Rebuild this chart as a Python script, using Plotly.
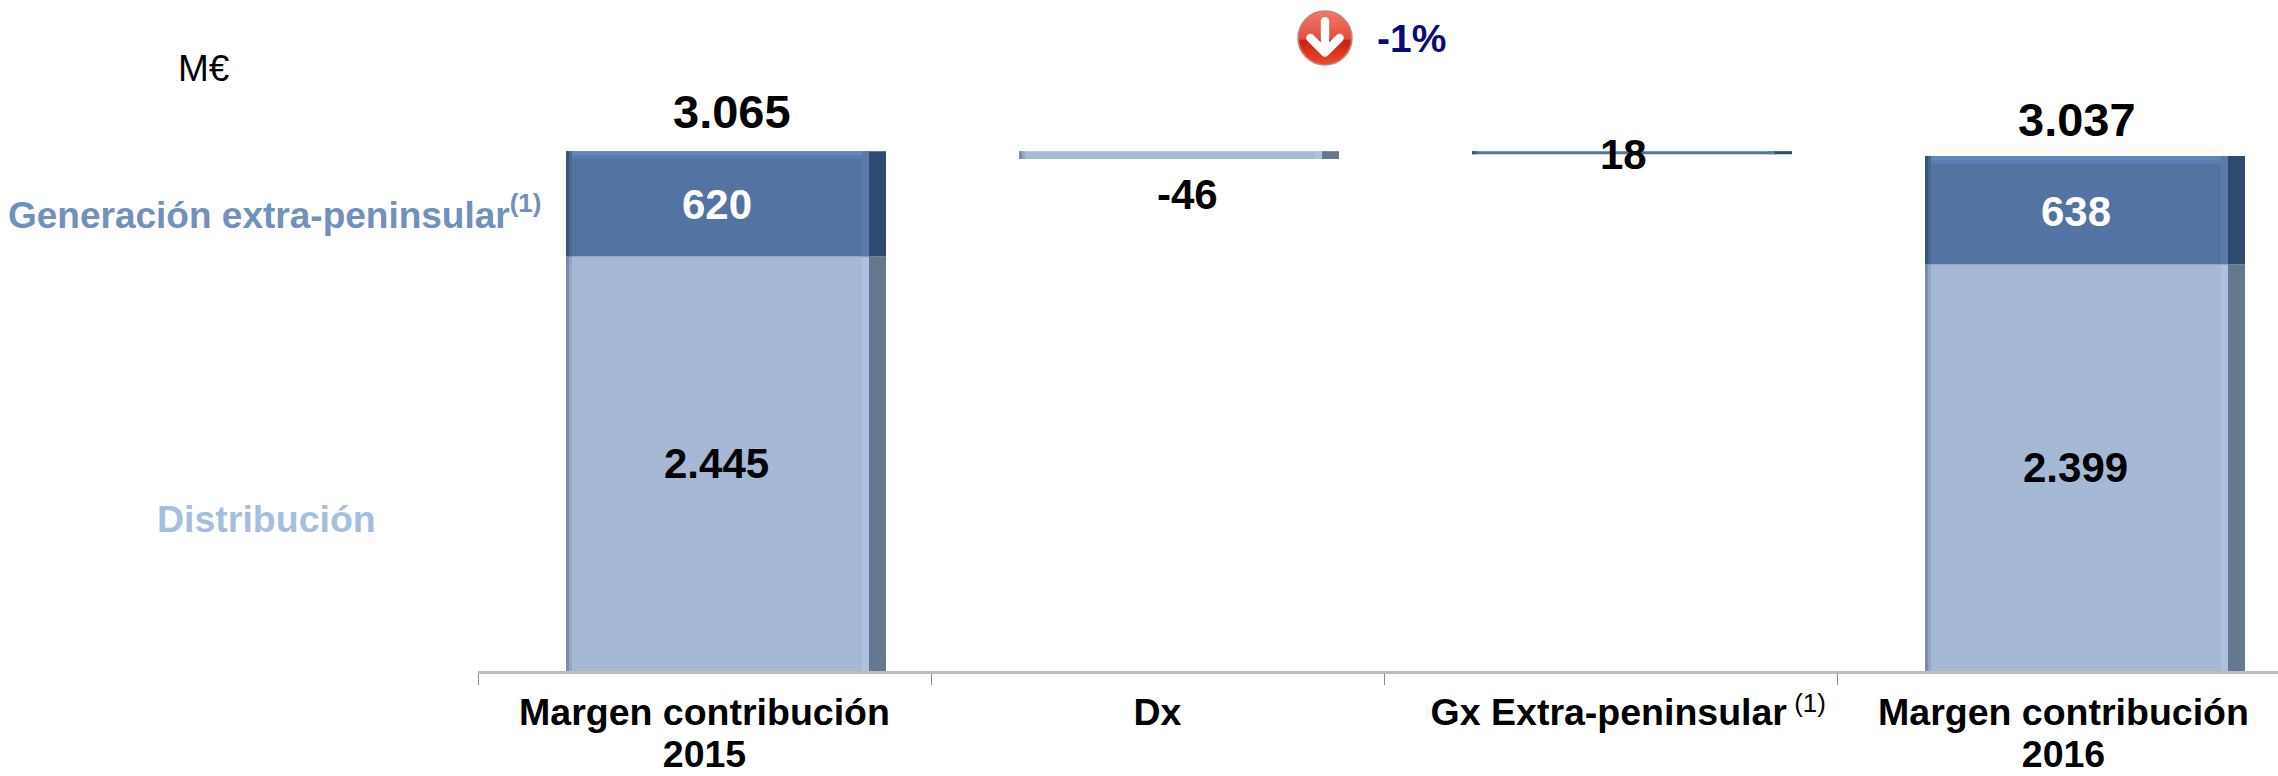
import base64
import plotly.graph_objects as go

# ---- data ----
categories = ["Margen contribución 2015", "Dx", "Gx Extra-peninsular", "Margen contribución 2016"]
tick_lines = [["Margen contribución", "2015"], ["Dx"], ["Gx Extra-peninsular"], ["Margen contribución", "2016"]]
distribucion = [2445, 2399]
generacion = [620, 638]
totals = [3065, 3037]
dx_change = -46
gx_change = 18
distribucion_labels = ["2.445", "2.399"]
generacion_labels = ["620", "638"]
total_labels = ["3.065", "3.037"]
start_cat, end_cat = categories[0], categories[3]

# ---- page geometry (px) ----
W, H = 2278, 776
PLOT_L, PLOT_B = 478, 671
CAT_W = 453
UNIT = 0.1696  # px per M€
FONT = "Liberation Sans, Arial, sans-serif"

LIGHT = dict(body="#A5B8D6", side="#667790", glow="#AEC1E0", edge1="#7D8CA6", edge2="#93A6C4", top1="#A5B8D6", top2="#A5B8D6")
DARK = dict(body="#5373A3", side="#2F4A70", glow="#5A7AAB", edge1="#38527A", edge2="#4A6794", top1="#6486BE", top2="#5B7CB0")

fig = go.Figure()


def seg(cat, base, height, color, left, width):
    fig.add_trace(go.Bar(
        x=[cat], y=[height], base=[base],
        offset=left / CAT_W, width=width / CAT_W,
        marker=dict(color=color, line=dict(width=0)),
        hoverinfo="skip", showlegend=False,
    ))


def block(cat, base, height, pal, small=False):
    L = -138.5
    seg(cat, base, height, pal["body"], L, 303)
    seg(cat, base, height, pal["glow"], L + 296, 8)
    seg(cat, base, height, pal["side"], L + 303, 17)
    seg(cat, base, height, pal["edge1"], L, 3)
    seg(cat, base, height, pal["edge2"], L + 3, 3)
    if not small:
        t1, t2 = 4 / UNIT, 4 / UNIT
        seg(cat, base + height - t1 - t2, t2, pal["top2"], L + 6, 290)
        seg(cat, base + height - t1, t1, pal["top1"], L + 6, 290)


block(start_cat, 0, distribucion[0], LIGHT)
block(start_cat, distribucion[0], generacion[0], DARK)
block(end_cat, 0, distribucion[1], LIGHT)
block(end_cat, distribucion[1], generacion[1], DARK)
block(categories[1], totals[0] + dx_change, -dx_change, LIGHT, small=True)
block(categories[2], totals[0] - gx_change, gx_change, DARK, small=True)


def tick_text(lines):
    return "<br>".join(f'<span style="font-size:37.5px">{s}</span>' for s in lines)


ticktext = [tick_text(l) for l in tick_lines]
ticktext[2] = ('&nbsp;&nbsp;&nbsp;&nbsp;<span style="font-size:37.5px">' + tick_lines[2][0] + '</span>'
               '<sup><span style="font-size:26px;font-weight:normal">&nbsp;(1)</span></sup>')


def px_x(px):
    return (px - PLOT_L) / (W - PLOT_L)


def px_y(py):
    return (PLOT_B - py) / PLOT_B


def bar_label(cat, y, txt, xshift, yshift, size, color="#000000"):
    return dict(x=cat, y=y, text=txt, xref="x", yref="y", xshift=xshift, yshift=yshift,
                showarrow=False, xanchor="center", yanchor="middle",
                font=dict(family=FONT, size=size, color=color, weight=700))


def free_label(px, py, txt, size, color, weight=700, anchor="left"):
    return dict(x=px_x(px), y=px_y(py), xref="paper", yref="paper", text=txt, showarrow=False,
                xanchor=anchor, yanchor="middle",
                font=dict(family=FONT, size=size, color=color, weight=weight))


annotations = [
    bar_label(start_cat, distribucion[0] / 2, distribucion_labels[0], 12, 0, 42),
    bar_label(start_cat, distribucion[0] + generacion[0] / 2, generacion_labels[0], 12, -1, 42, "#FFFFFF"),
    bar_label(end_cat, distribucion[1] / 2, distribucion_labels[1], 12, 0, 42),
    bar_label(end_cat, distribucion[1] + generacion[1] / 2, generacion_labels[1], 12, -1, 42, "#FFFFFF"),
    bar_label(start_cat, totals[0], total_labels[0], 27, 40, 47),
    bar_label(end_cat, totals[1], total_labels[1], 13, 36, 47),
    bar_label(categories[1], totals[0] + dx_change, str(dx_change), 30, -36, 42),
    bar_label(categories[2], totals[0] - gx_change, str(gx_change), 13, 0, 42),
    free_label(176, 68, "M€", 37, "#000000", 400),
    free_label(6, 212, "Generación extra-peninsular<sup>(1)</sup>", 37, "#7090BD"),
    free_label(155, 519, "Distribución", 37.5, "#A5BEDD"),
    free_label(1375, 39, "-1%", 39, "#0A0A78"),
]

icon_svg = """<svg xmlns='http://www.w3.org/2000/svg' viewBox='0 0 100 100' width='100' height='100'>
<defs><linearGradient id='a' x1='0' y1='0' x2='0' y2='1'>
<stop offset='0' stop-color='#EE7A66'/><stop offset='0.52' stop-color='#E0503C'/>
<stop offset='0.54' stop-color='#C9200F'/><stop offset='1' stop-color='#EE4A30'/></linearGradient></defs>
<circle cx='50' cy='50' r='48' fill='url(#a)' stroke='#CF7D72' stroke-width='3'/>
<path d='M50 20 V72 M24 50 L50 76 L76 50' fill='none' stroke='#FFFFFF' stroke-width='15' stroke-linecap='round' stroke-linejoin='round'/>
</svg>"""
icon_uri = "data:image/svg+xml;base64," + base64.b64encode(icon_svg.encode()).decode()

fig.update_layout(
    width=W, height=H, autosize=False,
    margin=dict(l=PLOT_L, r=0, t=0, b=H - PLOT_B, pad=0),
    paper_bgcolor="#FFFFFF", plot_bgcolor="#FFFFFF",
    barmode="overlay", showlegend=False,
    font=dict(family=FONT, color="#000000"),
    xaxis=dict(
        type="category", categoryorder="array", categoryarray=categories,
        range=[-0.5, -0.5 + (W - PLOT_L) / CAT_W],
        tickmode="array", tickvals=categories, ticktext=ticktext,
        tickson="boundaries", ticks="outside", ticklen=11, tickwidth=1, tickcolor="#8C8C8C",
        showline=True, linecolor="#BDBDBD", linewidth=3, automargin=False,
        showgrid=False, zeroline=False, tickangle=0, ticklabelstandoff=13,
        tickfont=dict(family=FONT, size=32, color="#000000", weight=700),
    ),
    yaxis=dict(visible=False, range=[0, PLOT_B / UNIT], showgrid=False, zeroline=False, automargin=False),
    annotations=annotations,
    images=[dict(source=icon_uri, xref="paper", yref="paper", x=px_x(1325), y=px_y(38),
                 sizex=56 / (W - PLOT_L), sizey=56 / PLOT_B, xanchor="center", yanchor="middle",
                 sizing="stretch", layer="above")],
)

fig.write_html("out.html", config=dict(displayModeBar=False),
               post_script="document.body.style.margin='0';document.documentElement.style.overflow='hidden';")
